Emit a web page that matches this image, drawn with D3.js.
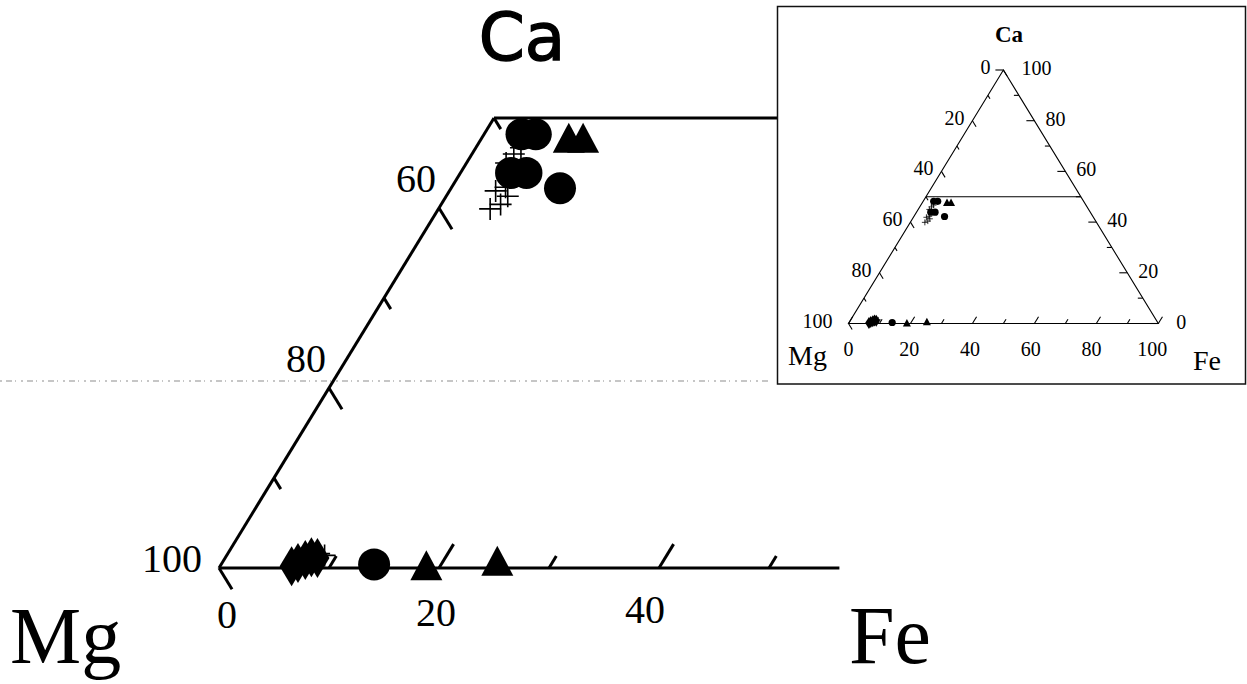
<!DOCTYPE html>
<html>
<head>
<meta charset="utf-8">
<script src="https://cdn.jsdelivr.net/npm/d3@7"></script>
<style>
  html, body { margin: 0; padding: 0; background: #fff; }
  svg { display: block; }
</style>
</head>
<body>
<svg id="chart" width="1247" height="684"></svg>
<script>
// Sample compositions in percent, given as [Fe, Ca]; Mg = 100 - Fe - Ca.
const circleSamples   = [[3.4, 48.2], [4.7, 48.2], [4.6, 43.9], [6.0, 43.9], [9.9, 42.2], [13.9, 0.4]];
const triangleSamples = [[7.9, 47.8], [9.2, 47.8], [18.7, 0.3], [24.9, 0.8]];
const crossSamples    = [[4.7, 39.9], [5.4, 40.4], [5.6, 41.3], [4.2, 41.9], [4.9, 42.3],
                         [3.6, 45.0], [3.8, 46.0], [4.1, 46.7], [8.3, 1.6], [8.9, 1.4]];
const diamondSamples  = [[6.5, 0.2], [6.9, 0.56], [7.4, 0.89], [7.8, 1.2], [8.4, 1.1]];

// Axis ticks and labels
const mainMgLabels  = [100, 80, 60];
const mainFeLabels  = [0, 20, 40];
const mainCaTicks   = [0, 10, 20, 30, 40, 50];
const mainFeTicks   = [0, 10, 20, 30, 40, 50];
const insetMgLabels = [0, 20, 40, 60, 80, 100];
const insetCaLabels = [100, 80, 60, 40, 20, 0];
const insetFeLabels = [0, 20, 40, 60, 80, 100];
const insetTicks    = d3.range(0, 101, 10);
const caCutLevel    = 50;   // horizontal Ca line
const mainFeExtent  = 56.4; // visible part of the Mg–Fe base in the enlarged view

const svg = d3.select("#chart");
const SERIF = "'Liberation Serif', 'Times New Roman', serif";

function ternary(x0, x1, y0, y1) {
  const sx = d3.scaleLinear().domain([0, 100]).range([x0, x1]);
  const sy = d3.scaleLinear().domain([0, 100]).range([y0, y1]);
  const pt = (fe, ca) => [sx(fe + ca / 2), sy(ca)];
  const unit = (a, b) => { const dx = b[0] - a[0], dy = b[1] - a[1], l = Math.hypot(dx, dy); return [dx / l, dy / l]; };
  return {
    sx, sy, pt,
    upRight: unit(pt(0, 0), pt(0, 100)),     // along the Mg–Ca edge
    downRight: unit(pt(0, 100), pt(100, 0))  // along the Ca–Fe edge
  };
}

const main  = ternary(219, 1319, 568, -332);
const inset = ternary(848.5, 1158.3, 323.5, 70);

const line = d3.line();

function drawMarkers(g, t, s) {
  g.selectAll("path.dia").data(diamondSamples).join("path")
    .attr("class", "dia")
    .attr("d", d => {
      const [x, y] = t.pt(d[0], d[1]);
      return line([[x, y - s.dh], [x + s.dw, y], [x, y + s.dh], [x - s.dw, y]]) + "Z";
    })
    .attr("fill", "#000");

  g.selectAll("circle.smp").data(circleSamples).join("circle")
    .attr("class", "smp")
    .attr("cx", d => t.pt(d[0], d[1])[0])
    .attr("cy", d => t.pt(d[0], d[1])[1])
    .attr("r", s.r).attr("fill", "#000");

  g.selectAll("path.tri").data(triangleSamples).join("path")
    .attr("class", "tri")
    .attr("d", d => {
      const [x, y] = t.pt(d[0], d[1]);
      return line([[x, y - s.th / 2], [x + s.tw / 2, y + s.th / 2], [x - s.tw / 2, y + s.th / 2]]) + "Z";
    })
    .attr("fill", "#000");

  g.selectAll("path.crs").data(crossSamples).join("path")
    .attr("class", "crs")
    .attr("d", d => {
      const [x, y] = t.pt(d[0], d[1]);
      return `M${x - s.c},${y}H${x + s.c}M${x},${y - s.c}V${y + s.c}`;
    })
    .attr("fill", "none").attr("stroke", "#000").attr("stroke-width", s.cw);
}

function tickPath(p, dir, len) {
  return line([p, [p[0] + dir[0] * len, p[1] + dir[1] * len]]);
}

// ---------- enlarged lower part of the triangle ----------
const gm = svg.append("g");

// faint scanner streak across the page
gm.append("line")
  .attr("x1", 0).attr("x2", 770).attr("y1", 381).attr("y2", 381)
  .attr("stroke", "#9a9a9a").attr("stroke-width", 1.3)
  .attr("stroke-dasharray", "2 4 6 3 1 5").attr("opacity", 0.75);

const frame = gm.append("g").attr("stroke", "#000").attr("stroke-width", 3).attr("fill", "none")
  .attr("stroke-linecap", "butt");
frame.append("path").attr("d", line([main.pt(0, 0), main.pt(mainFeExtent, 0)]));
frame.append("path").attr("d", line([main.pt(0, 0), main.pt(0, caCutLevel)]));
frame.append("path").attr("d", line([main.pt(0, caCutLevel), main.pt(100 - caCutLevel, caCutLevel)]));

// ticks on the Mg–Ca edge
frame.selectAll("path.lt").data(mainCaTicks).join("path")
  .attr("class", "lt")
  .attr("d", c => tickPath(main.pt(0, c), main.downRight, c % 20 === 0 ? 25 : 13));
// ticks on the Mg–Fe base
frame.selectAll("path.bt").data(mainFeTicks.filter(f => f > 0)).join("path")
  .attr("class", "bt")
  .attr("d", f => tickPath(main.pt(f, 0), main.upRight, f % 20 === 0 ? 28 : 14));

drawMarkers(gm.append("g"), main, { r: 16, tw: 32, th: 30, dw: 12, dh: 20, c: 11, cw: 1.6 });

// tick labels
gm.selectAll("text.ml").data(mainMgLabels).join("text")
  .attr("class", "ml")
  .attr("x", v => { const c = 100 - v; return main.pt(0, c)[0] + (c === 0 ? -17 : -3); })
  .attr("y", v => { const c = 100 - v; return main.pt(0, c)[1] + (c === 0 ? 4 : -16); })
  .attr("text-anchor", "end")
  .attr("font-family", SERIF).attr("font-size", 40)
  .text(v => v);

gm.selectAll("text.fl").data(mainFeLabels).join("text")
  .attr("class", "fl")
  .attr("x", f => main.pt(f, 0)[0] + 8 - 0.55 * f)
  .attr("y", f => 628 - f / 8)
  .attr("text-anchor", "middle")
  .attr("font-family", SERIF).attr("font-size", 40)
  .text(f => f);

// corner titles
gm.append("text").attr("x", 522).attr("y", 60).attr("text-anchor", "middle")
  .attr("font-family", "'DejaVu Sans', Verdana, sans-serif").attr("font-size", 66)
  .attr("stroke", "#000").attr("stroke-width", 1.4)
  .text("Ca");
gm.append("text").attr("x", 10).attr("y", 663)
  .attr("font-family", SERIF).attr("font-size", 80).text("Mg");
gm.append("text").attr("x", 849).attr("y", 663)
  .attr("font-family", SERIF).attr("font-size", 82).text("Fe");

// ---------- full ternary diagram (inset) ----------
const gi = svg.append("g");
gi.append("rect")
  .attr("x", 777.5).attr("y", 6.5).attr("width", 468).attr("height", 377.5)
  .attr("fill", "#fff").attr("stroke", "#111").attr("stroke-width", 1.5);

const iframe = gi.append("g").attr("stroke", "#000").attr("stroke-width", 1.1).attr("fill", "none");
iframe.append("path").attr("d", line([inset.pt(0, 0), inset.pt(100, 0), inset.pt(0, 100)]) + "Z");
iframe.append("path").attr("d", line([inset.pt(0, caCutLevel), inset.pt(100 - caCutLevel, caCutLevel)]));

iframe.selectAll("path.ilt").data(insetTicks).join("path")
  .attr("class", "ilt")
  .attr("d", c => tickPath(inset.pt(0, c), inset.downRight, c % 20 === 0 ? 7 : 4));
iframe.selectAll("path.ibt").data(insetTicks).join("path")
  .attr("class", "ibt")
  .attr("d", f => tickPath(inset.pt(f, 0), inset.upRight, f % 20 === 0 ? 8 : 5));
iframe.selectAll("path.irt").data(insetTicks).join("path")
  .attr("class", "irt")
  .attr("d", c => tickPath(inset.pt(100 - c, c), [-1, 0], c % 20 === 0 ? 8 : 5));

drawMarkers(gi.append("g"), inset, { r: 3.6, tw: 8, th: 7.5, dw: 3.8, dh: 6, c: 3, cw: 0.8 });

gi.selectAll("text.iml").data(insetMgLabels).join("text")
  .attr("class", "iml")
  .attr("x", v => inset.pt(0, 100 - v)[0] - 8 - (v === 100 ? 8 : 0) - (v === 0 ? 5 : 0))
  .attr("y", v => inset.pt(0, 100 - v)[1] + 4)
  .attr("text-anchor", "end")
  .attr("font-family", SERIF).attr("font-size", 20)
  .text(v => v);

gi.selectAll("text.icl").data(insetCaLabels).join("text")
  .attr("class", "icl")
  .attr("x", c => inset.pt(100 - c, c)[0] + 11 + (c === 0 || c === 100 ? 7 : 0))
  .attr("y", c => inset.pt(100 - c, c)[1] + 5)
  .attr("font-family", SERIF).attr("font-size", 20)
  .text(c => c);

gi.selectAll("text.ifl").data(insetFeLabels).join("text")
  .attr("class", "ifl")
  .attr("x", f => inset.pt(f, 0)[0] - 0.06 * f)
  .attr("y", 356)
  .attr("text-anchor", "middle")
  .attr("font-family", SERIF).attr("font-size", 20)
  .text(f => f);

gi.append("text").attr("x", 1009).attr("y", 42).attr("text-anchor", "middle")
  .attr("font-family", SERIF).attr("font-weight", "bold").attr("font-size", 23).text("Ca");
gi.append("text").attr("x", 788).attr("y", 365)
  .attr("font-family", SERIF).attr("font-size", 28).text("Mg");
gi.append("text").attr("x", 1193).attr("y", 370)
  .attr("font-family", SERIF).attr("font-size", 28).text("Fe");
</script>
</body>
</html>
